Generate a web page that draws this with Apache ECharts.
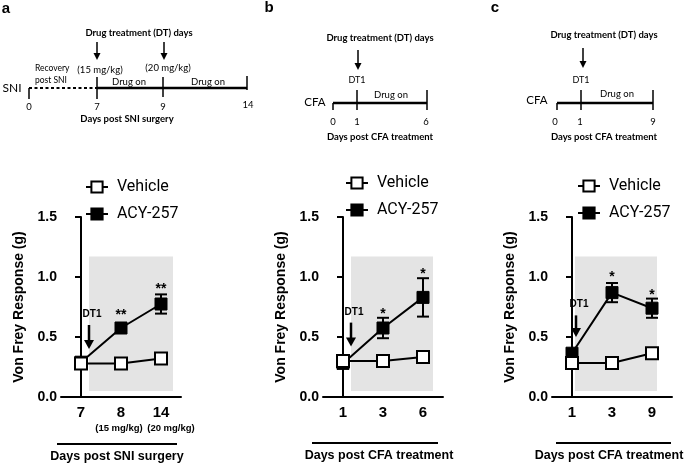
<!DOCTYPE html>
<html><head><meta charset="utf-8">
<script src="https://cdn.jsdelivr.net/npm/echarts@6/dist/echarts.min.js"></script>
<style>html,body{margin:0;padding:0;background:#fff}#c{width:685px;height:464px}</style>
</head><body><div id="c"></div>
<script>
// ---------------- data ----------------
const seriesNames = ['Vehicle', 'ACY-257'];
const yTickValues = [0, 0.5, 1.0, 1.5];

const categoriesA = ['7', '8', '14'];
const subLabelsA = ['', '(15 mg/kg)', '(20 mg/kg)'];
const vehicleA = [0.28, 0.28, 0.32];
const acyA = [0.29, 0.575, 0.775];
const acyErrA = [0.02, 0.02, 0.08];
const starsA = ['', '**', '**'];

const categoriesB = ['1', '3', '6'];
const subLabelsB = ['', '', ''];
const vehicleB = [0.30, 0.30, 0.333];
const acyB = [0.28, 0.575, 0.83];
const acyErrB = [0.02, 0.085, 0.16];
const starsB = ['', '*', '*'];

const categoriesC = ['1', '3', '9'];
const subLabelsC = ['', '', ''];
const vehicleC = [0.283, 0.283, 0.365];
const acyC = [0.365, 0.87, 0.74];
const acyErrC = [0.02, 0.08, 0.08];
const starsC = ['', '*', '*'];

const xTitles = ['Days post SNI surgery', 'Days post CFA treatment', 'Days post CFA treatment'];
const yTitle = 'Von Frey Response (g)';

// annotation placement (data units)
const starHeights = [[null, 0.68, 0.90], [null, 0.69, 1.02], [null, 1.00, 0.85]];
const shadeBoxes = [[0.2, 2.3, 0.05, 1.17], [0.2, 2.25, 0.05, 1.17], [0.075, 2.125, 0.05, 1.17]];
const dtArrows = [[0.2, 0.40, 0.60, 0.69], [0.2, 0.42, 0.62, 0.71], [0.1, 0.50, 0.68, 0.77]];

// ---------------- layout ----------------
const panels = [
  {cats: categoriesA, sub: subLabelsA, veh: vehicleA, acy: acyA, err: acyErrA, stars: starsA},
  {cats: categoriesB, sub: subLabelsB, veh: vehicleB, acy: acyB, err: acyErrB, stars: starsB},
  {cats: categoriesC, sub: subLabelsC, veh: vehicleC, acy: acyC, err: acyErrC, stars: starsC}
];
const gridLefts = [61, 323, 552];
const legendPos = [[85, 179], [345, 175], [577, 178]];
const xTitlePos = [[117, 457], [379, 456], [609, 456]];
const FF = '"Liberation Sans", Arial, sans-serif';
const SF = 'Lato, "Noto Sans", sans-serif';

const grid = [], xAxis = [], yAxis = [], series = [], legend = [];
panels.forEach((p, i) => {
  grid.push({left: gridLefts[i], top: 217, width: 120, height: 180, containLabel: false, outerBoundsMode: 'none'});
  const sub = p.sub;
  xAxis.push({
    type: 'category', gridIndex: i, data: p.cats, boundaryGap: true,
    axisLine: {lineStyle: {color: '#000', width: 2}},
    axisTick: {alignWithLabel: true, length: 7, lineStyle: {color: '#000', width: 2}},
    axisLabel: {
      margin: 7, color: '#000', interval: 0, hideOverlap: false,
      formatter: (v, idx) => sub[idx] ? '{m|' + v + '}\n{' + (idx === 2 ? 't' : 's') + '|' + sub[idx] + '}' : '{m|' + v + '}',
      rich: {
        m: {fontFamily: FF, fontWeight: 'bold', fontSize: 15, lineHeight: 17, color: '#000'},
        s: {fontFamily: FF, fontWeight: 'bold', fontSize: 9.5, lineHeight: 15, color: '#000', padding: [0, 4, 0, 0]},
        t: {fontFamily: FF, fontWeight: 'bold', fontSize: 9.5, lineHeight: 15, color: '#000', padding: [0, 0, 0, 20]}
      }
    }
  });
  yAxis.push({
    type: 'value', gridIndex: i, min: 0, max: 1.5, interval: 0.5,
    axisLine: {show: true, lineStyle: {color: '#000', width: 2}},
    axisTick: {show: true, length: 6, lineStyle: {color: '#000', width: 2}},
    splitLine: {show: false},
    axisLabel: {margin: 4, color: '#000', fontFamily: FF, fontWeight: 'bold', fontSize: 14,
      formatter: v => v.toFixed(1)},
    name: yTitle, nameLocation: 'middle', nameGap: 35, nameRotate: 90,
    nameTextStyle: {fontFamily: FF, fontWeight: 'bold', fontSize: 14, color: '#000'}
  });
  legend.push({
    left: legendPos[i][0], top: legendPos[i][1], orient: 'vertical', selectedMode: false, padding: 0,
    itemWidth: 22, itemHeight: 14, itemGap: 11, data: seriesNames,
    textStyle: {fontFamily: 'Roboto, ' + FF, fontSize: 16, color: '#000', padding: [0, 0, 0, 4]}
  });
});
// hidden value x-axes for annotations
panels.forEach((p, i) => {
  xAxis.push({type: 'value', gridIndex: i, min: -0.5, max: 2.5, show: false});
});

function errRender(params, api) {
  const x = api.value(0), m = api.value(1), e = api.value(2);
  const t = api.coord([x, m + e]), b = api.coord([x, m - e]);
  const w = 6, st = {stroke: '#000', lineWidth: 2};
  return {type: 'group', children: [
    {type: 'line', shape: {x1: t[0], y1: t[1], x2: b[0], y2: b[1]}, style: st},
    {type: 'line', shape: {x1: t[0] - w, y1: t[1], x2: t[0] + w, y2: t[1]}, style: st},
    {type: 'line', shape: {x1: b[0] - w, y1: b[1], x2: b[0] + w, y2: b[1]}, style: st}
  ]};
}
function starRender(params, api) {
  const d = api.coord([api.value(0), api.value(1)]);
  return {type: 'text', x: d[0], y: d[1], style: {
    text: api.value(2), font: 'bold 14px ' + FF, fill: '#000',
    align: 'center', verticalAlign: 'middle', textAlign: 'center', textVerticalAlign: 'middle'}};
}
function shadeRender(params, api) {
  const p0 = api.coord([api.value(0), api.value(3)]);
  const p1 = api.coord([api.value(1), api.value(2)]);
  return {type: 'rect', shape: {x: p0[0], y: p0[1], width: p1[0] - p0[0], height: p1[1] - p0[1]},
    style: {fill: '#e4e4e4'}};
}
function dtRender(params, api) {
  const x = api.value(0);
  const tip = api.coord([x, api.value(1)]);
  const tail = api.coord([x, api.value(2)]);
  const txt = api.coord([x, api.value(3)]);
  const hh = 9, hw = 5;
  return {type: 'group', children: [
    {type: 'line', shape: {x1: tail[0], y1: tail[1], x2: tip[0], y2: tip[1] - hh + 1}, style: {stroke: '#000', lineWidth: 2.5}},
    {type: 'polygon', shape: {points: [[tip[0] - hw, tip[1] - hh], [tip[0] + hw, tip[1] - hh], [tip[0], tip[1]]]}, style: {fill: '#000'}},
    {type: 'text', x: txt[0] + 3, y: txt[1], style: {text: 'DT1', font: 'bold 10px ' + FF, fill: '#000',
      align: 'center', verticalAlign: 'middle', textAlign: 'center', textVerticalAlign: 'middle'}}
  ]};
}

panels.forEach((p, i) => {
  const vx = 3 + i;
  series.push({type: 'custom', xAxisIndex: vx, yAxisIndex: i, renderItem: shadeRender, z: 0,
    data: [shadeBoxes[i]], silent: true});
  series.push({type: 'custom', xAxisIndex: i, yAxisIndex: i, renderItem: errRender, z: 2, silent: true,
    encode: {x: 0, y: 1}, data: p.acy.map((v, k) => [k, v, p.err[k]])});
  series.push({name: 'ACY-257', type: 'line', xAxisIndex: i, yAxisIndex: i, data: p.acy, z: 3,
    symbol: 'rect', symbolSize: 12, showSymbol: true,
    lineStyle: {color: '#000', width: 2}, itemStyle: {color: '#000', borderColor: '#000', borderWidth: 1}});
  series.push({name: 'Vehicle', type: 'line', xAxisIndex: i, yAxisIndex: i, data: p.veh, z: 4,
    symbol: 'rect', symbolSize: 12, showSymbol: true,
    lineStyle: {color: '#000', width: 2}, itemStyle: {color: '#fff', borderColor: '#000', borderWidth: 2}});
  series.push({type: 'custom', xAxisIndex: i, yAxisIndex: i, renderItem: starRender, z: 5, silent: true,
    encode: {x: 0, y: 1},
    data: p.stars.map((s, k) => [k, starHeights[i][k], s]).filter(d => d[2])});
  series.push({type: 'custom', xAxisIndex: vx, yAxisIndex: i, renderItem: dtRender, z: 5, silent: true,
    data: [dtArrows[i]]});
});

// ---------------- schematic diagrams (graphic) ----------------
const G = [];
function T(x, y, text, size, bold, align, font) {
  G.push({type: 'text', x, y, style: {text, font: (bold ? 'bold ' : '') + size + 'px ' + (font || SF), fill: '#000',
    align: align || 'center', verticalAlign: 'middle', textAlign: align || 'center', textVerticalAlign: 'middle'}});
}
function L(x1, y1, x2, y2, w, dash) {
  G.push({type: 'line', shape: {x1, y1, x2, y2}, style: {stroke: '#000', lineWidth: w, lineDash: dash || null}});
}
function A(x, y1, y2) {
  const hh = 7, hw = 3.5;
  L(x, y1, x, y2 - hh + 1, 1.5);
  G.push({type: 'polygon', shape: {points: [[x - hw, y2 - hh], [x + hw, y2 - hh], [x, y2]]}, style: {fill: '#000'}});
}
// panel letters
T(6, 9, 'a', 15, true, 'center', FF);
T(269, 8, 'b', 15, true, 'center', FF);
T(495, 8, 'c', 15, true, 'center', FF);
// panel a schematic
T(139, 33, 'Drug treatment (DT) days', 9.5, true);
A(97, 42, 60); A(164, 42, 60);
T(100, 70, '(15 mg/kg)', 9.5); T(168, 68, '(20 mg/kg)', 9.5);
T(35, 68, 'Recovery', 8.5, false, 'left'); T(35, 80, 'post SNI', 8.5, false, 'left');
T(12, 88, 'SNI', 12);
L(29, 88, 97, 88, 2, [3, 2.5]);
L(97, 88, 247, 88, 2.5);
L(29, 88, 29, 99, 1.5); L(97, 77, 97, 99, 1.5); L(163, 77, 163, 97, 1.5); L(247, 76, 247, 90, 1.5);
T(29, 107, '0', 9.5); T(97, 107, '7', 9.5); T(163, 107, '9', 9.5); T(248, 105, '14', 9.5);
T(129, 82, 'Drug on', 9.5); T(208, 82, 'Drug on', 9.5);
T(127, 119, 'Days post SNI surgery', 9.5, true);
// panel b schematic
T(380, 38, 'Drug treatment (DT) days', 9.5, true);
A(358, 50, 70);
T(357, 80, 'DT1', 9);
T(315, 102, 'CFA', 11.5);
L(333, 103, 427, 103, 2.5);
L(333, 103, 333, 110, 1.5); L(357, 90, 357, 110, 1.5); L(427, 90, 427, 110, 1.5);
T(391, 95, 'Drug on', 9.5);
T(333, 122, '0', 9.5); T(357, 122, '1', 9.5); T(426, 122, '6', 9.5);
T(380, 137, 'Days post CFA treatment', 9.5, true);
// panel c schematic
T(604, 35, 'Drug treatment (DT) days', 9.5, true);
A(583, 48, 68);
T(581, 80, 'DT1', 9);
T(537, 100, 'CFA', 11.5);
L(557, 103, 653, 103, 2.5);
L(557, 103, 557, 110, 1.5); L(581, 90, 581, 110, 1.5); L(653, 90, 653, 110, 1.5);
T(617, 94, 'Drug on', 9.5);
T(555, 122, '0', 9.5); T(580, 122, '1', 9.5); T(653, 122, '9', 9.5);
T(604, 137, 'Days post CFA treatment', 9.5, true);
// underline bars and titles under x axes
L(57, 444, 177, 444, 2); L(312, 443, 438, 443, 2); L(556, 443, 671, 443, 2);
xTitles.forEach((t, i) => T(xTitlePos[i][0], xTitlePos[i][1], t, 12.5, true, 'center', FF));

const chart = echarts.init(document.getElementById('c'), null, {renderer: 'canvas'});
chart.setOption({
  animation: false, backgroundColor: '#fff',
  grid, xAxis, yAxis, legend, series, graphic: {elements: G}
});
</script></body></html>
